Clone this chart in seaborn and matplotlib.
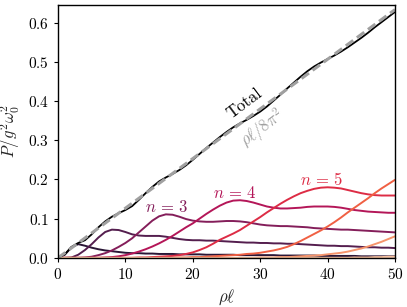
import matplotlib

matplotlib.use("Agg")
import matplotlib.pyplot as plt
import pandas as pd
import seaborn as sns

# grid of rho*ell values (x axis)
rho = list(range(51))

# per-mode contributions
mode_1 = [0.0, 0.008, 0.027, 0.035, 0.031, 0.026, 0.022, 0.019, 0.017, 0.015,
          0.013, 0.012, 0.012, 0.011, 0.011, 0.010, 0.010, 0.010, 0.009, 0.009,
          0.009, 0.009, 0.008, 0.008, 0.008, 0.008, 0.008, 0.007, 0.007, 0.007,
          0.007, 0.007, 0.007, 0.006, 0.006, 0.006, 0.006, 0.006, 0.006, 0.005,
          0.005, 0.005, 0.005, 0.005, 0.005, 0.004, 0.004, 0.004, 0.004, 0.004,
          0.004]
mode_2 = [0.0, 0.0, 0.001, 0.008, 0.02, 0.035, 0.052, 0.066, 0.072, 0.071,
          0.066, 0.06, 0.057, 0.056, 0.056, 0.056, 0.054, 0.051, 0.048, 0.046,
          0.045, 0.045, 0.044, 0.044, 0.043, 0.042, 0.041, 0.040, 0.039, 0.039,
          0.038, 0.038, 0.037, 0.037, 0.036, 0.036, 0.035, 0.034, 0.033, 0.032,
          0.031, 0.031, 0.030, 0.030, 0.029, 0.028, 0.027, 0.027, 0.026, 0.026,
          0.025]
mode_3 = [0.0, 0.0, 0.0, 0.0, 0.001, 0.003, 0.007, 0.012, 0.019, 0.028,
          0.038, 0.05, 0.065, 0.08, 0.095, 0.106, 0.111, 0.11, 0.105, 0.099,
          0.095, 0.093, 0.092, 0.092, 0.093, 0.094, 0.094, 0.093, 0.091, 0.088,
          0.085, 0.083, 0.082, 0.081, 0.081, 0.080, 0.079, 0.078, 0.076, 0.075,
          0.074, 0.073, 0.072, 0.072, 0.071, 0.070, 0.069, 0.068, 0.067, 0.066,
          0.065]
mode_4 = [0.0, 0.0, 0.0, 0.0, 0.0, 0.0, 0.0, 0.001, 0.002, 0.004,
          0.007, 0.011, 0.016, 0.022, 0.029, 0.037, 0.046, 0.056, 0.067, 0.078,
          0.088, 0.1, 0.112, 0.123, 0.133, 0.141, 0.146, 0.147, 0.145, 0.141,
          0.136, 0.131, 0.128, 0.126, 0.126, 0.127, 0.128, 0.13, 0.131, 0.131,
          0.131, 0.13, 0.128, 0.125, 0.122, 0.12, 0.118, 0.117, 0.116, 0.115,
          0.115]
mode_5 = [0.0, 0.0, 0.0, 0.0, 0.0, 0.0, 0.0, 0.0, 0.0, 0.0,
          0.0, 0.0, 0.001, 0.001, 0.002, 0.003, 0.004, 0.005, 0.007, 0.01,
          0.014, 0.02, 0.027, 0.036, 0.046, 0.054, 0.062, 0.071, 0.082, 0.093,
          0.104, 0.116, 0.127, 0.138, 0.148, 0.157, 0.165, 0.171, 0.176, 0.179,
          0.18, 0.179, 0.177, 0.173, 0.169, 0.165, 0.162, 0.16, 0.159, 0.159,
          0.159]
mode_6 = [0.0, 0.0, 0.0, 0.0, 0.0, 0.0, 0.0, 0.0, 0.0, 0.0,
          0.0, 0.0, 0.0, 0.0, 0.0, 0.0, 0.0, 0.0, 0.001, 0.001,
          0.002, 0.002, 0.003, 0.004, 0.005, 0.006, 0.007, 0.008, 0.01, 0.011,
          0.013, 0.016, 0.019, 0.023, 0.028, 0.035, 0.043, 0.052, 0.061, 0.07,
          0.08, 0.091, 0.103, 0.116, 0.128, 0.14, 0.152, 0.165, 0.177, 0.188,
          0.199]
mode_7 = [0.0] * 30 + [0.001, 0.001, 0.001, 0.002, 0.002, 0.003, 0.004, 0.005, 0.006, 0.007,
                       0.009, 0.011, 0.013, 0.016, 0.02, 0.024, 0.029, 0.035, 0.041, 0.048,
                       0.055]
mode_8 = [0.0] * 44 + [0.001, 0.001, 0.001, 0.002, 0.002, 0.003, 0.003]

modes = [mode_1, mode_2, mode_3, mode_4, mode_5, mode_6, mode_7, mode_8]

total = [0.0, 0.009, 0.028, 0.038, 0.045, 0.06, 0.078, 0.093, 0.105, 0.114,
         0.122, 0.132, 0.148, 0.165, 0.181, 0.195, 0.205, 0.214, 0.224, 0.236,
         0.25, 0.265, 0.28, 0.294, 0.308, 0.321, 0.333, 0.343, 0.352, 0.362,
         0.373, 0.386, 0.401, 0.416, 0.432, 0.447, 0.462, 0.476, 0.488, 0.498,
         0.507, 0.516, 0.526, 0.537, 0.549, 0.561, 0.574, 0.588, 0.601, 0.614,
         0.627]

# rho*ell / 8 pi^2 reference line (end points)
ref_x = [0, 50]
ref_y = [0.0, 0.633]

labelled = {3: (16.1, 0.131), 4: (26.3, 0.166), 5: (39.1, 0.2)}


def main() -> None:
    sns.set_theme(style="ticks")
    plt.rcParams["font.family"] = "serif"
    plt.rcParams["font.serif"] = ["cmr10", "DejaVu Serif"]
    plt.rcParams["mathtext.fontset"] = "cm"
    plt.rcParams["axes.formatter.use_mathtext"] = True

    frames = []
    for i, vals in enumerate(modes, start=1):
        frames.append(pd.DataFrame({"rho": rho, "P": vals, "n": i}))
    df = pd.concat(frames, ignore_index=True)

    palette = sns.color_palette("rocket", len(modes))

    fig, ax = plt.subplots(figsize=(4.07, 3.07), dpi=100)
    fig.subplots_adjust(left=0.1425, right=0.9705, top=0.984, bottom=0.16)

    sns.lineplot(data=df, x="rho", y="P", hue="n", palette=palette,
                 linewidth=1.4, legend=False, ax=ax)
    sns.lineplot(x=rho, y=total, color="black", linewidth=1.3, ax=ax)
    sns.lineplot(x=ref_x, y=ref_y, color="#a0a0a0", linewidth=2.2, ax=ax,
                 linestyle=(0, (3, 1.5)))

    for n, (x, y) in labelled.items():
        ax.text(x, y, f"$n\\,=\\,{n}$", color=palette[n - 1], fontsize=12,
                ha="center", va="center")

    ax.text(27.6, 0.395, "Total", rotation=37, fontsize=12, color="black",
            ha="center", va="center", rotation_mode="anchor")
    ax.text(30.4, 0.33, r"$\rho\ell/8\pi^2$", rotation=37, fontsize=12,
            color="#a0a0a0", ha="center", va="center", rotation_mode="anchor")

    ax.set_xlim(0, 50)
    ax.set_ylim(0, 0.645)
    ax.set_xticks([0, 10, 20, 30, 40, 50])
    ax.set_yticks([0.0, 0.1, 0.2, 0.3, 0.4, 0.5, 0.6])
    ax.set_xlabel(r"$\rho\ell$", fontsize=12)
    ax.set_ylabel(r"$P/g^2\omega_0^2$", fontsize=12)
    ax.tick_params(labelsize=11, length=3, width=0.8, color="black", labelcolor="black")
    for side in ["top", "right", "left", "bottom"]:
        ax.spines[side].set_visible(True)
        ax.spines[side].set_color("black")
        ax.spines[side].set_linewidth(1.0)

    fig.savefig("out.png", dpi=100)


if __name__ == "__main__":
    main()
